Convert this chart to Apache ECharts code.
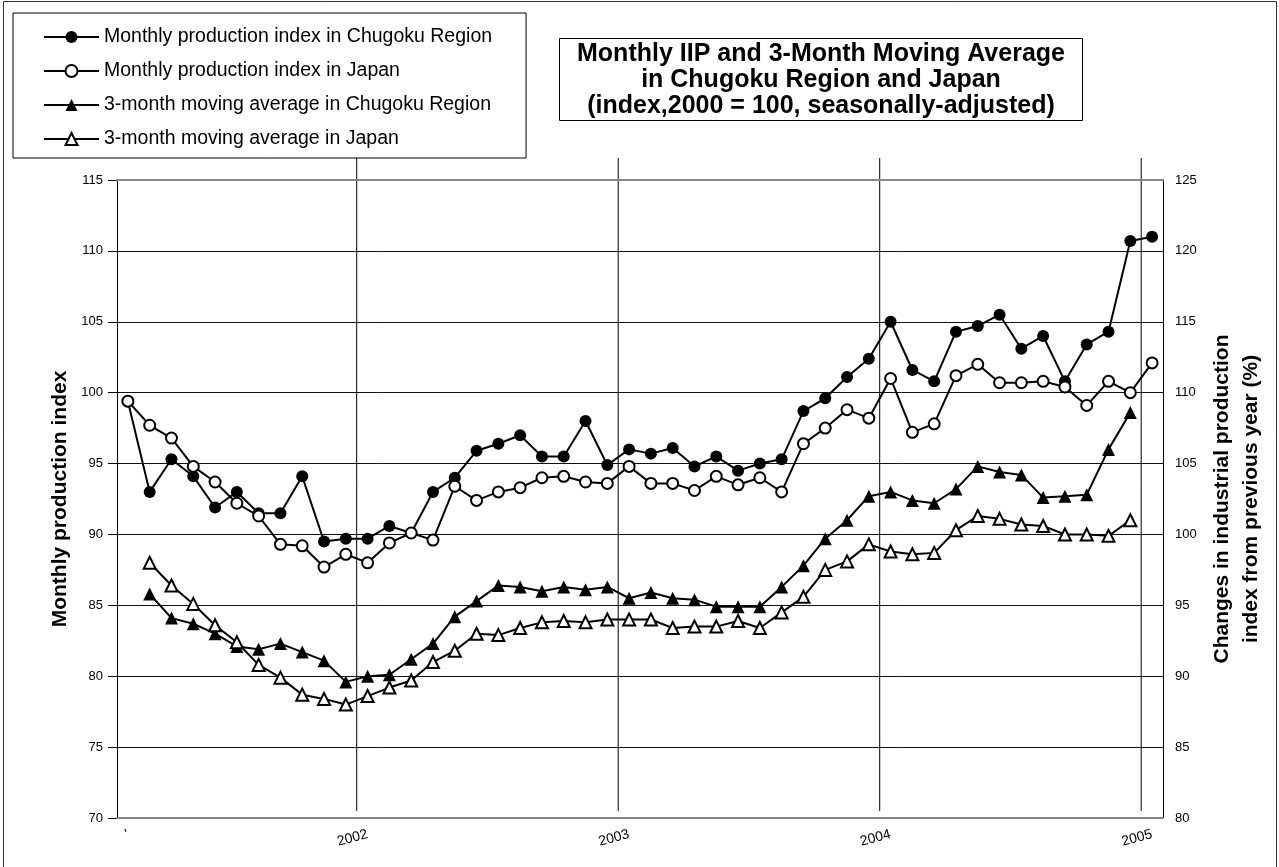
<!DOCTYPE html>
<html>
<head>
<meta charset="utf-8">
<script src="https://cdn.jsdelivr.net/npm/echarts/dist/echarts.min.js"></script>
<style>
  html, body {margin:0; padding:0; background:#fff;}
  #main {width:1279px; height:867px;}
</style>
</head>
<body>
<div id="main"></div>
<script>
// months (Feb 2001 .. Jan 2005)
let months = [
  '2001-02','2001-03','2001-04','2001-05','2001-06','2001-07','2001-08','2001-09','2001-10','2001-11','2001-12',
  '2002-01','2002-02','2002-03','2002-04','2002-05','2002-06','2002-07','2002-08','2002-09','2002-10','2002-11','2002-12',
  '2003-01','2003-02','2003-03','2003-04','2003-05','2003-06','2003-07','2003-08','2003-09','2003-10','2003-11','2003-12',
  '2004-01','2004-02','2004-03','2004-04','2004-05','2004-06','2004-07','2004-08','2004-09','2004-10','2004-11','2004-12',
  '2005-01'
]
let chugokuMonthly = [99.4, 93.0, 95.3, 94.1, 91.9, 93.0, 91.5, 91.5, 94.1, 89.5, 89.7, 89.7, 90.6, 90.1, 93.0, 94.0,
  95.9, 96.4, 97.0, 95.5, 95.5, 98.0, 94.9, 96.0, 95.7, 96.1, 94.8, 95.5, 94.5, 95.0, 95.3, 98.7,
  99.6, 101.1, 102.4, 105.0, 101.6, 100.8, 104.3, 104.7, 105.5, 103.1, 104.0, 100.8, 103.4, 104.3, 110.7, 111.0]
let japanMonthly = [99.4, 97.7, 96.8, 94.8, 93.7, 92.2, 91.3, 89.3, 89.2, 87.7, 88.6, 88.0, 89.4, 90.1, 89.6, 93.4,
  92.4, 93.0, 93.3, 94.0, 94.1, 93.7, 93.6, 94.8, 93.6, 93.6, 93.1, 94.1, 93.5, 94.0, 93.0, 96.4,
  97.5, 98.8, 98.2, 101.0, 97.2, 97.8, 101.2, 102.0, 100.7, 100.7, 100.8, 100.4, 99.1, 100.8, 100.0, 102.1]
let chugokuAvg = [null, 85.8, 84.1, 83.7, 83.0, 82.1, 81.9, 82.3, 81.7, 81.1, 79.6, 80.0, 80.1, 81.2, 82.3, 84.2,
  85.3, 86.4, 86.3, 86.0, 86.3, 86.1, 86.3, 85.5, 85.9, 85.5, 85.4, 84.9, 84.9, 84.9, 86.3, 87.8,
  89.7, 91.0, 92.7, 93.0, 92.4, 92.2, 93.2, 94.8, 94.4, 94.2, 92.6, 92.7, 92.8, 96.0, 98.6, null]
let japanAvg = [null, 88.0, 86.4, 85.1, 83.6, 82.4, 80.8, 79.9, 78.7, 78.4, 78.0, 78.6, 79.2, 79.7, 81.0, 81.8,
  83.0, 82.9, 83.4, 83.8, 83.9, 83.8, 84.0, 84.0, 84.0, 83.4, 83.5, 83.5, 83.9, 83.4, 84.5, 85.6,
  87.5, 88.1, 89.3, 88.8, 88.6, 88.7, 90.3, 91.3, 91.1, 90.7, 90.6, 90.0, 90.0, 89.9, 91.0, null]

let seriesNames = [
  'Monthly production index in Chugoku Region',
  'Monthly production index in Japan',
  '3-month moving average in Chugoku Region',
  '3-month moving average in Japan'
]
let titleLines = [
  'Monthly IIP and 3-Month Moving Average',
  'in Chugoku Region and Japan',
  '(index,2000 = 100, seasonally-adjusted)'
]
let leftName = 'Monthly production index'
let rightName = 'Changes in industrial production\nindex from previous year (%)'

const FONT = '"Liberation Sans", Arial, sans-serif'

// year boundaries (january of each year)
let yearStarts = months.map((m, i) => m.slice(5) == '01' ? i : -1).filter(i => i >= 0)

let lineSeries = (name, data, symbol, size, filled) => ({
  name: name,
  type: 'line',
  data: data,
  symbol: symbol,
  symbolSize: size,
  showAllSymbol: true,
  lineStyle: {color: '#000', width: 2},
  itemStyle: filled ? {color: '#000'} : {color: '#fff', borderColor: '#000', borderWidth: 2},
  emphasis: {disabled: true}
})

let yearLines = yearStarts.map(b => ({
  type: 'line',
  xAxisIndex: 1,
  yAxisIndex: 0,
  clip: false,
  silent: true,
  symbol: 'none',
  lineStyle: {color: '#000', width: 1},
  data: [[b, 116.55], [b, 70.5]],
  z: 1
}))

let option = {
  animation: false,
  backgroundColor: '#fff',
  textStyle: {fontFamily: FONT, color: '#000'},
  graphic: [{
    type: 'rect',
    shape: {x: 3.5, y: 1.5, width: 1273, height: 900},
    style: {fill: 'none', stroke: '#333', lineWidth: 1},
    silent: true
  }],
  title: {
    text: titleLines.join('\n'),
    left: 803,
    top: 38,
    textAlign: 'center',
    padding: [3, 18, 2, 18],
    borderColor: '#000',
    borderWidth: 1,
    textStyle: {fontFamily: FONT, fontSize: 25, fontWeight: 'bold', lineHeight: 26, color: '#000'}
  },
  legend: {
    data: seriesNames,
    orient: 'vertical',
    left: 13,
    top: 13,
    padding: [14, 34, 9, 30],
    borderColor: '#000',
    borderWidth: 1,
    itemWidth: 55,
    itemHeight: 15,
    itemGap: 14,
    textStyle: {fontFamily: FONT, fontSize: 19.5, color: '#000'}
  },
  grid: {left: 117, right: 116, top: 180, bottom: 49, outerBoundsMode: 'none'},
  xAxis: [{
    type: 'category',
    data: months,
    boundaryGap: true,
    z: 3,
    axisLine: {lineStyle: {color: '#888', width: 2}},
    axisTick: {show: false},
    splitLine: {show: false},
    axisLabel: {
      interval: 0,
      rotate: 15,
      margin: 16,
      fontSize: 14,
      fontFamily: FONT,
      color: '#000',
      formatter: (v, i) => i == 0 ? "'" : (v.slice(5) == '01' ? v.slice(0, 4) : '')
    }
  }, {
    type: 'value',
    min: 0,
    max: 48,
    position: 'top',
    z: 3,
    axisLine: {show: true, lineStyle: {color: '#888', width: 2}},
    axisTick: {show: false},
    axisLabel: {show: false},
    splitLine: {show: false}
  }],
  yAxis: [{
    type: 'value',
    min: 70,
    max: 115,
    interval: 5,
    name: leftName,
    nameLocation: 'middle',
    nameGap: 44,
    nameRotate: 90,
    nameTextStyle: {fontFamily: FONT, fontSize: 21, fontWeight: 'bold', color: '#000'},
    axisLine: {show: true, lineStyle: {color: '#000', width: 1}},
    axisTick: {show: true, length: 9, lineStyle: {color: '#000'}},
    axisLabel: {margin: 14, fontSize: 13, fontFamily: FONT, color: '#000'},
    splitLine: {show: true, lineStyle: {color: '#111', width: 1}}
  }, {
    type: 'value',
    min: 80,
    max: 125,
    interval: 5,
    position: 'right',
    name: rightName,
    nameLocation: 'middle',
    nameGap: 42,
    nameRotate: 90,
    nameTextStyle: {fontFamily: FONT, fontSize: 21, fontWeight: 'bold', color: '#000', lineHeight: 29},
    axisLine: {show: true, lineStyle: {color: '#000', width: 1}},
    axisTick: {show: false},
    axisLabel: {margin: 12, fontSize: 13, fontFamily: FONT, color: '#000'},
    splitLine: {show: false}
  }],
  series: [
    ...yearLines,
    lineSeries(seriesNames[0], chugokuMonthly, 'circle', 12, true),
    lineSeries(seriesNames[1], japanMonthly, 'circle', 11, false),
    lineSeries(seriesNames[2], chugokuAvg, 'triangle', 13, true),
    lineSeries(seriesNames[3], japanAvg, 'triangle', 12, false)
  ]
}

let myChart = echarts.init(document.getElementById('main'))
myChart.setOption(option)
window.onresize = myChart.resize
</script>
</body>
</html>
